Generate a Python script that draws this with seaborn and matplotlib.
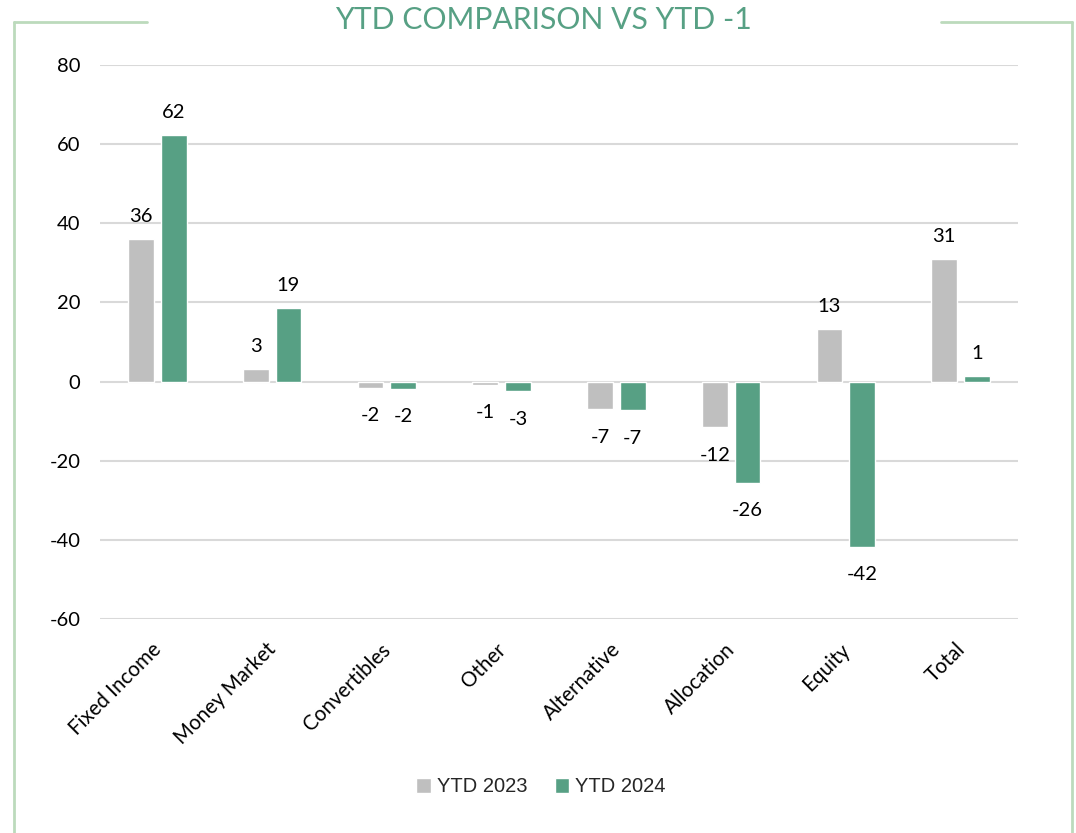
import pandas as pd
import numpy as np
import matplotlib.pyplot as plt
import matplotlib.transforms as mtransforms
import seaborn as sns
from matplotlib.lines import Line2D

# Chart data
categories = ['Fixed Income', 'Money Market', 'Convertibles', 'Other',
              'Alternative', 'Allocation', 'Equity', 'Total']
ytd_2023 = [36.0, 3.3, -1.6, -0.8, -7.0, -11.6, 13.3, 31.0]
ytd_2024 = [62.3, 18.7, -1.8, -2.5, -7.2, -25.6, -41.7, 1.4]
labels_2023 = ['36', '3', '-2', '-1', '-7', '-12', '13', '31']
labels_2024 = ['62', '19', '-2', '-3', '-7', '-26', '-42', '1']
series = ['YTD 2023', 'YTD 2024']
colors = ['#bfbfbf', '#57a084']

df = pd.DataFrame({
    'category': categories * 2,
    'value': ytd_2023 + ytd_2024,
    'series': [series[0]] * len(categories) + [series[1]] * len(categories),
})

sns.set_style('white')
plt.rcParams['font.family'] = ['Lato', 'DejaVu Sans']
plt.rcParams['axes.unicode_minus'] = False

fig = plt.figure(figsize=(10.76, 8.33), dpi=100)
ax = fig.add_axes([100 / 1076, 1 - 619 / 833, 918 / 1076, 554 / 833])

sns.barplot(data=df, x='category', y='value', hue='series', order=categories,
            hue_order=series, palette=colors, width=0.57, gap=0.21,
            saturation=1, ax=ax, legend=True)

ax.set_ylim(-60, 80)
ax.set_yticks(np.arange(-60, 81, 20))
ax.yaxis.grid(True, color='#d9d9d9', linewidth=1.5)
ax.set_axisbelow(True)
for s in ax.spines.values():
    s.set_visible(False)
ax.set_xlabel('')
ax.set_ylabel('')
ax.tick_params(axis='y', length=0, pad=14, labelsize=14.5, labelcolor='#000000')
ax.tick_params(axis='x', length=0, pad=9, labelsize=14.8, labelcolor='#000000')
# shift rotated category labels a little left/down to sit like the original
shift = mtransforms.ScaledTranslation(-6 / 100, -8 / 100, fig.dpi_scale_trans)
for lab in ax.get_xticklabels():
    lab.set_rotation(45)
    lab.set_ha('right')
    lab.set_rotation_mode('anchor')
    lab.set_transform(lab.get_transform() + shift)

# Value labels: above positive bars, below negative bars
for cont, labs in zip(ax.containers, [labels_2023, labels_2024]):
    for rect, lab in zip(cont.patches, labs):
        h = rect.get_height()
        xc = rect.get_x() + rect.get_width() / 2
        off = 10 if h >= 0 else -14
        ax.annotate(lab, (xc, h), xytext=(0, off), textcoords='offset points',
                    ha='center', va='bottom' if h >= 0 else 'top',
                    fontsize=14.5, color='#000000')

# Legend
handles, lbls = ax.get_legend_handles_labels()
ax.legend_.remove()
fig.legend(handles, lbls, loc='center', bbox_to_anchor=(0.503, 1 - 787 / 833),
           ncol=2, frameon=False, handlelength=0.7,
           handleheight=0.7, handletextpad=0.3, columnspacing=1.4,
           prop={'family': 'Liberation Sans', 'size': 14.5})

# Title and frame
fig.text(543 / 1076, 1 - 20 / 833, 'YTD COMPARISON VS YTD -1', ha='center',
         va='center', fontsize=21.7, color='#57a084')
frame_kw = dict(color='#bcdabc', linewidth=2, transform=fig.transFigure)
fig.add_artist(Line2D([14 / 1076, 14 / 1076], [0, 1 - 22 / 833], **frame_kw))
fig.add_artist(Line2D([14 / 1076, 147 / 1076], [1 - 22 / 833, 1 - 22 / 833], **frame_kw))
fig.add_artist(Line2D([941 / 1076, 1072 / 1076], [1 - 22 / 833, 1 - 22 / 833], **frame_kw))
fig.add_artist(Line2D([1072 / 1076, 1072 / 1076], [0, 1 - 22 / 833], **frame_kw))

fig.savefig('out.png', dpi=100)
